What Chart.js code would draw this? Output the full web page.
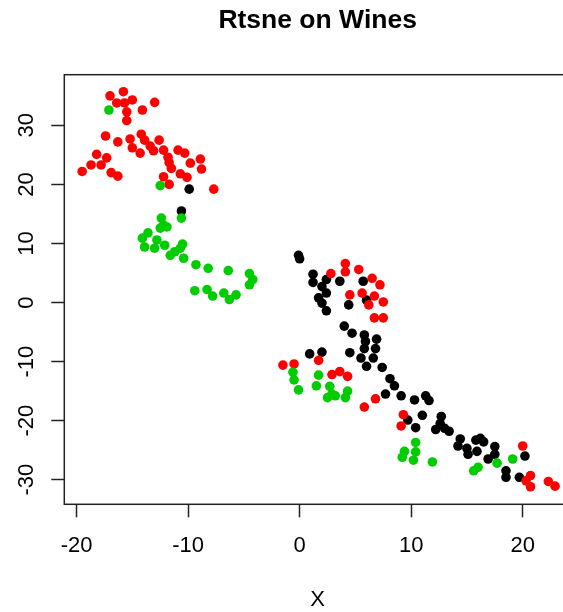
<!DOCTYPE html>
<html lang="en">
  <head>
    <meta charset="UTF-8" />
    <title>Rtsne on Wines</title>
    <style>
      html,
      body {
        margin: 0;
        padding: 0;
        overflow: hidden;
        background: #fff;
      }
    </style>
    <script src="https://cdn.jsdelivr.net/npm/chart.js@4/dist/chart.umd.min.js"></script>
  </head>
  <body>
    <canvas id="tsnePlot" width="580" height="612"></canvas>
    <script>
      // axis ticks
      var xTicks = [-20, -10, 0, 10, 20];
      var yTicks = [-30, -20, -10, 0, 10, 20, 30];

      // Type 1 wines (black)
      var type1X = [-9.9, -10.6, -0.1, 0.0, 1.2, 1.2, 2.4, 3.6, 2.0, 2.4, 1.7, 2.0, 2.4, 4.4, 5.7, 6.0,
        4.0, 4.7, 5.8, 5.9, 5.8, 6.9, 6.8, 4.5, 5.5, 6.6, 6.0, 7.4, 8.1, 8.5, 0.9, 2.0, 9.1, 7.7,
        10.3, 11.3, 11.6, 11.0, 9.7, 10.4, 12.2, 12.7, 12.6, 13.0, 13.4, 14.4, 14.2, 15.0, 15.1,
        15.8, 16.2, 16.5, 15.9, 17.5, 17.5, 16.9, 18.5, 18.5, 20.2, 19.7];
      var type1Y = [19.2, 15.5, 8.0, 7.4, 4.8, 3.4, 3.9, 3.6, 2.7, 1.6, 0.8, -0.1, -1.4, -0.4, 3.6, 0.4,
        -4.0, -5.2, -5.5, -6.6, -7.8, -6.2, -7.8, -8.5, -9.4, -9.4, -10.8, -11.0, -12.9, -14.1, -8.7, -8.4, -15.8, -15.5,
        -16.5, -15.8, -16.6, -19.1, -19.9, -21.2, -21.5, -19.3, -20.5, -21.3, -21.8, -23.1, -24.3, -24.7, -25.7,
        -23.3, -23.0, -23.6, -25.2, -24.4, -25.7, -26.5, -28.5, -29.6, -26.0, -29.6];

      // Type 2 wines (red)
      var type2X = [-17.0, -15.8, -16.4, -15.7, -15.0, -15.5, -15.5, -14.1, -13.0, -17.4, -16.3, -15.2,
        -15.0, -14.3, -14.2, -13.9, -13.4, -13.1, -12.6, -12.2, -11.8, -11.7, -11.5, -10.9, -10.3,
        -9.8, -8.9, -8.8, -10.7, -10.1, -12.2, -11.7, -7.7, -18.2, -17.3, -17.8, -18.7, -19.5, -16.9,
        -16.3, 4.1, 4.1, 5.3, 2.8, 6.5, 7.2, 4.5, 5.6, 6.7, 6.2, 7.5, 6.7, 7.5, 1.7, -1.5, -0.5, 2.9,
        3.6, 4.3, 6.8, 5.8, 9.3, 9.1, 20.0, 20.7, 20.3, 20.7, 22.3, 22.9];
      var type2Y = [35.0, 35.7, 33.8, 33.8, 34.3, 32.3, 30.8, 32.6, 33.9, 28.2, 27.2, 27.7,
        26.2, 25.3, 28.5, 27.5, 26.5, 25.7, 27.5, 25.8, 24.6, 23.7, 22.7, 25.8, 25.3,
        23.6, 24.3, 22.6, 21.8, 21.2, 21.3, 20.0, 19.2, 25.1, 24.5, 23.3, 23.3, 22.2, 22.0,
        21.4, 6.6, 5.2, 5.6, 4.9, 4.1, 3.0, 1.3, 1.6, 1.1, -0.4, 0.1, -2.6, -2.6, -9.8, -10.6, -10.4, -12.2,
        -11.7, -12.5, -16.3, -17.7, -19.0, -20.9, -24.3, -29.3, -30.2, -31.2, -30.3, -31.1];

      // Type 3 wines (green)
      var type3X = [-17.1, -12.5, -10.6, -12.4, -12.2, -11.9, -12.5, -13.6, -14.1, -13.9, -13.0, -12.8,
        -12.1, -11.6, -11.2, -10.7, -10.5, -10.4, -9.3, -8.2, -6.4, -4.5, -4.2, -4.5, -9.4, -8.3,
        -7.8, -6.8, -6.3, -5.7, -0.6, -0.5, -0.1, 1.7, 1.5, 2.7, 2.9, 2.5, 3.2, 4.3, 4.1, 10.4, 9.4,
        9.2, 10.2, 10.4, 11.9, 15.6, 16.0, 17.7, 19.1];
      var type3Y = [32.6, 19.8, 14.3, 14.3, 13.1, 12.8, 12.6, 11.8, 10.9, 9.4, 9.2, 10.6,
        9.7, 8.0, 8.6, 9.2, 9.9, 7.5, 6.4, 5.8, 5.4, 4.9, 3.9, 3.0, 2.0, 2.2,
        1.1, 1.6, 0.5, 1.3, -11.8, -13.1, -14.8, -12.3, -14.1, -14.2, -15.5, -16.1, -15.8, -15.0, -16.1, -23.7, -25.2,
        -26.2, -26.7, -25.3, -27.0, -28.5, -27.9, -27.2, -26.5];

      var fontFamily = "'Liberation Sans', Arial, sans-serif";

      function toPoints(xs, ys) {
        return xs.map(function (x, i) {
          return { x: x, y: ys[i] };
        });
      }

      function useTicks(values) {
        return function (scale) {
          scale.ticks = values.map(function (v) {
            return { value: v };
          });
        };
      }

      // box round the plot region and the rotated y labels, like base R graphics
      var frame = {
        id: "frame",
        afterDatasetsDraw: function (chart) {
          var a = chart.chartArea;
          var ctx = chart.ctx;
          ctx.save();
          ctx.strokeStyle = "#222";
          ctx.lineWidth = 1.5;
          ctx.strokeRect(a.left, a.top, a.right - a.left, a.bottom - a.top);

          var ys = chart.scales.y;
          ctx.fillStyle = "#000";
          ctx.font = "22px " + fontFamily;
          ctx.textAlign = "center";
          ctx.textBaseline = "alphabetic";
          ys.ticks.forEach(function (t) {
            var py = ys.getPixelForValue(t.value);
            ctx.save();
            ctx.translate(33, py);
            ctx.rotate(-Math.PI / 2);
            ctx.fillText(String(t.value), 0, 0);
            ctx.restore();
          });
          ctx.restore();
        },
      };

      var ctx = document.getElementById("tsnePlot").getContext("2d");

      new Chart(ctx, {
        type: "scatter",
        data: {
          datasets: [
            {
              label: "Type 3",
              data: toPoints(type3X, type3Y),
              backgroundColor: "#00CD00",
              order: 0,
            },
            {
              label: "Type 2",
              data: toPoints(type2X, type2Y),
              backgroundColor: "#FF0000",
              order: 1,
            },
            {
              label: "Type 1",
              data: toPoints(type1X, type1Y),
              backgroundColor: "#000000",
              order: 2,
            },
          ],
        },
        options: {
          responsive: false,
          animation: false,
          devicePixelRatio: 1,
          layout: { padding: { left: 0, right: 9, top: 0, bottom: 0 } },
          elements: {
            point: { radius: 4.8, borderWidth: 0, hoverRadius: 4.8 },
          },
          plugins: {
            legend: { display: false },
            tooltip: { enabled: false },
            title: {
              display: true,
              text: "Rtsne on Wines",
              fullSize: false,
              color: "#000",
              font: { family: fontFamily, size: 26.5, weight: "bold", lineHeight: 1.2 },
              padding: { top: 5, bottom: 37.9 },
            },
          },
          scales: {
            x: {
              type: "linear",
              position: "bottom",
              min: -21.1,
              max: 24.33,
              afterBuildTicks: useTicks(xTicks),
              afterFit: function (scale) {
                scale.height = 107.7;
              },
              border: { display: false },
              grid: {
                drawOnChartArea: false,
                drawTicks: true,
                tickLength: 13,
                tickColor: "#222",
                tickWidth: 1.5,
              },
              ticks: {
                color: "#000",
                padding: 15,
                maxRotation: 0,
                font: { family: fontFamily, size: 22 },
              },
              title: {
                display: true,
                text: "X",
                color: "#000",
                padding: 0,
                font: { family: fontFamily, size: 22, lineHeight: 1.1 },
              },
            },
            y: {
              type: "linear",
              position: "left",
              min: -34.17,
              max: 38.58,
              afterBuildTicks: useTicks(yTicks),
              afterFit: function (scale) {
                scale.width = 64.3;
              },
              border: { display: false },
              grid: {
                drawOnChartArea: false,
                drawTicks: true,
                tickLength: 13,
                tickColor: "#222",
                tickWidth: 1.5,
              },
              ticks: { display: false },
            },
          },
        },
        plugins: [frame],
      });
    </script>
  </body>
</html>
